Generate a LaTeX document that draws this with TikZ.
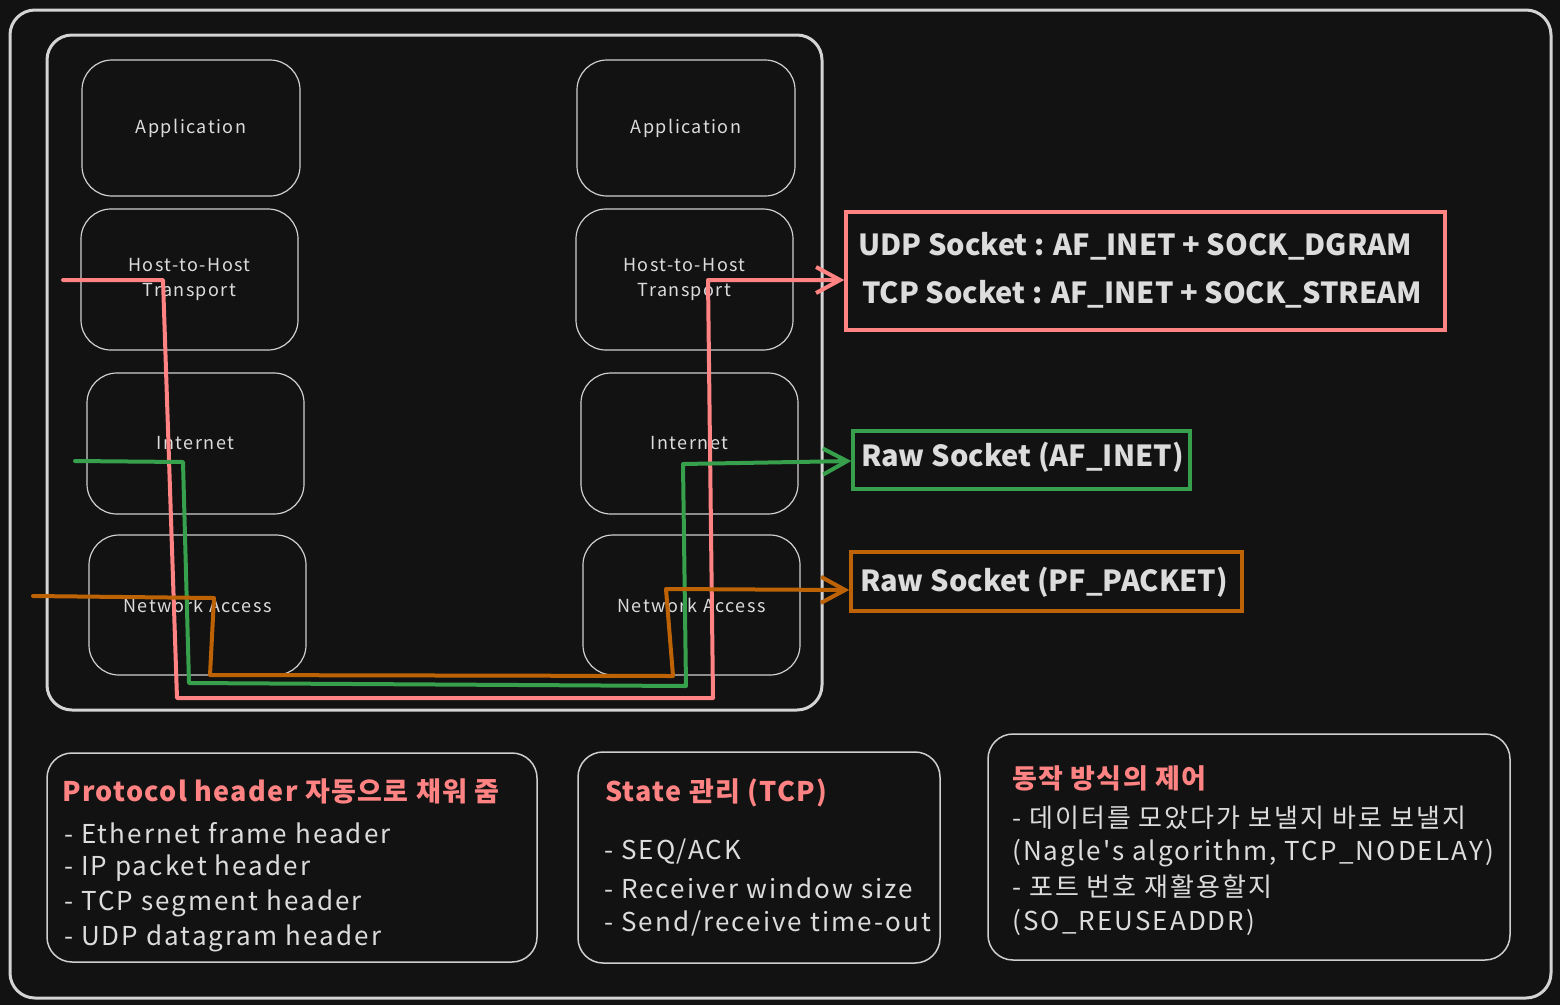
\documentclass[tikz,border=0pt]{standalone}
\usepackage{fontspec}
\setmainfont{Noto Sans CJK KR}
\newfontfamily\handfont[LetterSpace=8,Ligatures=TeXOff]{Noto Sans CJK KR}
\newfontfamily\titlefont[LetterSpace=5]{Noto Sans CJK KR}
\usetikzlibrary{arrows.meta}
\definecolor{bg}{HTML}{121212}
\definecolor{frame}{HTML}{D4D4D4}
\definecolor{boxline}{HTML}{CFCFCF}
\definecolor{txt}{HTML}{DCDCDC}
\definecolor{pinkc}{HTML}{FF8383}
\definecolor{greenc}{HTML}{36A04C}
\definecolor{orangec}{HTML}{BE6206}
\tikzset{
  stackbox/.style={draw=boxline, line width=1.2pt, rounded corners=30pt, minimum width=217pt, minimum height=140pt, align=center, text=txt, font=\handfont\fontsize{18}{25}\selectfont, inner sep=0pt},
  bigframe/.style={draw=frame, line width=3pt, rounded corners=25pt, inner sep=0pt},
  notebox/.style={draw=boxline, line width=1.5pt, rounded corners=25pt, inner sep=0pt},
  sockbox/.style={line width=3.5pt, inner sep=0pt},
  socktxt/.style={anchor=west, inner sep=0pt, text=txt, font=\fontsize{29}{34}\selectfont\bfseries},
  titletxt/.style={anchor=west, inner sep=0pt, text=pinkc, font=\titlefont\fontsize{27}{32}\selectfont\bfseries},
  listtxt/.style={anchor=west, inner sep=0pt, text=txt, font=\handfont\fontsize{26}{30}\selectfont},
  flow/.style={line width=4pt, line join=round, line cap=round, -{Straight Barb[length=24pt,width=26pt,line width=4pt]}},
}
\begin{document}
\begin{tikzpicture}[x=1pt,y=-1pt]
\fill[bg] (0,0) rectangle (1560,1005);
\useasboundingbox (0,0) rectangle (1560,1005);
% outer frame
\node[bigframe, minimum width=1541pt, minimum height=988pt] (outer) at (780.5,504) {};
% stack container
\node[bigframe, minimum width=775pt, minimum height=675pt] (stack) at (434.5,372.5) {};
% left stack
\node[stackbox, minimum width=218pt, minimum height=136pt] (lapp) at (191,128) {Application};
\node[stackbox, minimum height=141pt] (lhth) at (189.5,279.5) {Host-to-Host\\Transport};
\node[stackbox, minimum height=141pt] (lint) at (195.5,443.5) {Internet};
\node[stackbox] (lnet) at (197.5,605) {Network Access};
% right stack
\node[stackbox, minimum width=218pt, minimum height=136pt] (rapp) at (686,128) {Application};
\node[stackbox, minimum height=141pt] (rhth) at (684.5,279.5) {Host-to-Host\\Transport};
\node[stackbox, minimum height=141pt] (rint) at (689.5,443.5) {Internet};
\node[stackbox] (rnet) at (691.5,605) {Network Access};
% socket boxes
\node[sockbox, draw=pinkc, minimum width=599pt, minimum height=118pt] (sock) at (1145.5,271) {};
\node[socktxt] (udp) at (858,246) {UDP Socket : AF\_INET + SOCK\_DGRAM};
\node[socktxt] (tcp) at (862,294) {TCP Socket : AF\_INET + SOCK\_STREAM};
\node[sockbox, draw=greenc, minimum width=337pt, minimum height=58pt] (rawinet) at (1021.5,460) {};
\node[socktxt] (rawinettxt) at (861,457) {Raw Socket (AF\_INET)};
\node[sockbox, draw=orangec, minimum width=391pt, minimum height=59pt] (rawpkt) at (1046.5,581.5) {};
\node[socktxt] (rawpkttxt) at (860,582) {Raw Socket (PF\_PACKET)};
% flows
\coordinate (pstart) at (63,280);
\coordinate (gstart) at (75,461);
\coordinate (ostart) at (33,596);
\draw[flow, pinkc] (pstart) -- (163,280) -- (177,698) -- (713,698) -- (708,280) -- (sock.west |- 0,280);
\draw[flow, greenc] (gstart) -- (183,462) -- (189,683) -- (686,686) -- (683,464) -- (rawinet.west |- 0,461);
\draw[flow, orangec] (ostart) -- (214,598) -- (210,675) -- (673,676) -- (666,589) -- (rawpkt.west |- 0,590);
% bottom note boxes
\node[notebox, minimum width=490pt, minimum height=209pt] (note1) at (292,857.5) {};
\node[titletxt] (t1) at (62,791) {Protocol header 자동으로 채워 줌};
\node[listtxt] (a1) at (64,833) {- Ethernet frame header};
\node[listtxt] (a2) at (64,868) {- IP packet header};
\node[listtxt] (a3) at (64,903) {- TCP segment header};
\node[listtxt] (a4) at (64,938) {- UDP datagram header};
\node[notebox, minimum width=362pt, minimum height=211pt] (note2) at (759,857.5) {};
\node[titletxt] (t2) at (605,793) {State 관리 (TCP)};
\node[listtxt] (b1) at (604,852) {- SEQ/ACK};
\node[listtxt] (b2) at (604,888) {- Receiver window size};
\node[listtxt] (b3) at (604,923) {- Send/receive time-out};
\node[notebox, minimum width=522pt, minimum height=226pt] (note3) at (1249,847) {};
\node[titletxt] (t3) at (1012,778) {동작 방식의 제어};
\node[listtxt] (c1) at (1012,818) {- 데이터를 모았다가 보낼지 바로 보낼지};
\node[listtxt] (c2) at (1012,853) {(Nagle's algorithm, TCP\_NODELAY)};
\node[listtxt] (c3) at (1012,887) {- 포트 번호 재활용할지};
\node[listtxt] (c4) at (1012,922) {(SO\_REUSEADDR)};
\end{tikzpicture}
\end{document}
